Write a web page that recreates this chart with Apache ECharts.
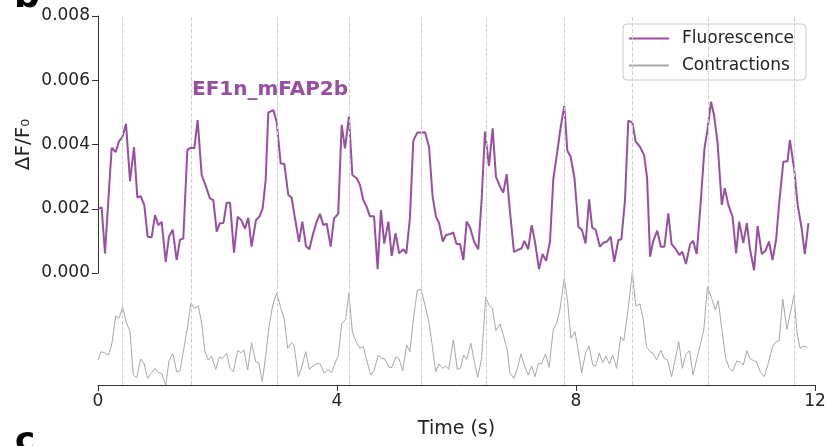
<!DOCTYPE html>
<html>
<head>
<meta charset="utf-8">
<script src="https://cdn.jsdelivr.net/npm/echarts@6/dist/echarts.min.js"></script>
<style>
  html, body { margin: 0; padding: 0; background: #fff; }
  #chart { width: 829px; height: 446px; }
</style>
</head>
<body>
<div id="chart"></div>
<script>
// Calcium fluorescence trace (ΔF/F0) and body contraction trace over 12 s
const fluoTime = [0, 0.061, 0.117, 0.229, 0.296, 0.351, 0.407, 0.469, 0.536, 0.603, 0.658, 0.714, 0.775, 0.831, 0.898, 0.954, 1.010, 1.066, 1.133, 1.188, 1.250, 1.317, 1.372, 1.428, 1.495, 1.556, 1.612, 1.668, 1.735, 1.808, 1.874, 1.930, 1.987, 2.040, 2.100, 2.153, 2.210, 2.276, 2.338, 2.400, 2.460, 2.516, 2.570, 2.644, 2.700, 2.756, 2.806, 2.850, 2.934, 2.990, 3.057, 3.118, 3.185, 3.240, 3.297, 3.364, 3.420, 3.481, 3.537, 3.604, 3.660, 3.715, 3.771, 3.827, 3.894, 3.950, 4.020, 4.078, 4.134, 4.200, 4.257, 4.330, 4.385, 4.440, 4.497, 4.550, 4.620, 4.680, 4.736, 4.790, 4.860, 4.915, 4.980, 5.040, 5.110, 5.160, 5.220, 5.277, 5.344, 5.410, 5.473, 5.540, 5.600, 5.657, 5.710, 5.770, 5.824, 5.890, 5.947, 6.000, 6.060, 6.115, 6.170, 6.226, 6.293, 6.365, 6.420, 6.477, 6.544, 6.605, 6.660, 6.728, 6.783, 6.840, 6.895, 6.962, 7.020, 7.090, 7.135, 7.200, 7.258, 7.313, 7.380, 7.440, 7.500, 7.565, 7.620, 7.687, 7.744, 7.804, 7.855, 7.910, 7.975, 8.040, 8.100, 8.160, 8.220, 8.270, 8.330, 8.400, 8.457, 8.520, 8.580, 8.640, 8.710, 8.760, 8.820, 8.875, 8.942, 9.000, 9.070, 9.140, 9.190, 9.240, 9.290, 9.360, 9.420, 9.480, 9.545, 9.600, 9.670, 9.730, 9.780, 9.840, 9.910, 9.960, 10.020, 10.090, 10.150, 10.200, 10.260, 10.310, 10.370, 10.440, 10.490, 10.550, 10.620, 10.680, 10.730, 10.800, 10.860, 10.910, 10.980, 11.040, 11.110, 11.170, 11.230, 11.290, 11.350, 11.400, 11.470, 11.540, 11.580, 11.650, 11.710, 11.780, 11.830, 11.890];
const fluoValue = [0.00200, 0.00204, 0.00061, 0.00390, 0.00376, 0.00410, 0.00423, 0.00464, 0.00286, 0.00392, 0.00235, 0.00239, 0.00211, 0.00113, 0.00111, 0.00180, 0.00149, 0.00159, 0.00035, 0.00113, 0.00135, 0.00040, 0.00104, 0.00107, 0.00383, 0.00390, 0.00388, 0.00476, 0.00305, 0.00269, 0.00232, 0.00227, 0.00129, 0.00155, 0.00156, 0.00219, 0.00219, 0.00063, 0.00175, 0.00164, 0.00138, 0.00172, 0.00082, 0.00165, 0.00175, 0.00201, 0.00289, 0.00499, 0.00507, 0.00471, 0.00341, 0.00340, 0.00243, 0.00235, 0.00170, 0.00097, 0.00160, 0.00084, 0.00074, 0.00125, 0.00160, 0.00184, 0.00149, 0.00154, 0.00082, 0.00170, 0.00184, 0.00461, 0.00388, 0.00487, 0.00305, 0.00295, 0.00274, 0.00227, 0.00206, 0.00177, 0.00177, 0.00012, 0.00196, 0.00092, 0.00160, 0.00053, 0.00124, 0.00061, 0.00074, 0.00061, 0.00170, 0.00412, 0.00437, 0.00437, 0.00438, 0.00393, 0.00238, 0.00175, 0.00155, 0.00098, 0.00118, 0.00121, 0.00126, 0.00090, 0.00090, 0.00040, 0.00160, 0.00142, 0.00098, 0.00074, 0.00227, 0.00440, 0.00333, 0.00450, 0.00300, 0.00269, 0.00250, 0.00308, 0.00191, 0.00066, 0.00071, 0.00077, 0.00100, 0.00074, 0.00149, 0.00098, 0.00012, 0.00059, 0.00038, 0.00098, 0.00292, 0.00378, 0.00455, 0.00520, 0.00381, 0.00362, 0.00295, 0.00144, 0.00134, 0.00092, 0.00229, 0.00142, 0.00134, 0.00082, 0.00094, 0.00098, 0.00113, 0.00035, 0.00103, 0.00105, 0.00227, 0.00474, 0.00469, 0.00409, 0.00393, 0.00367, 0.00295, 0.00051, 0.00098, 0.00132, 0.00082, 0.00082, 0.00186, 0.00090, 0.00074, 0.00056, 0.00066, 0.00028, 0.00090, 0.00100, 0.00059, 0.00227, 0.00388, 0.00445, 0.00533, 0.00492, 0.00404, 0.00212, 0.00264, 0.00212, 0.00175, 0.00061, 0.00160, 0.00094, 0.00155, 0.00077, 0.00008, 0.00146, 0.00059, 0.00069, 0.00098, 0.00040, 0.00105, 0.00217, 0.00346, 0.00348, 0.00414, 0.00326, 0.00212, 0.00134, 0.00059, 0.00155];

// Contraction signal, arbitrary units
const contTime = [0, 0.050, 0.106, 0.173, 0.229, 0.296, 0.351, 0.413, 0.469, 0.536, 0.590, 0.647, 0.714, 0.770, 0.830, 0.900, 0.954, 1.010, 1.066, 1.133, 1.188, 1.250, 1.317, 1.372, 1.428, 1.495, 1.556, 1.612, 1.680, 1.735, 1.790, 1.846, 1.900, 1.970, 2.030, 2.080, 2.153, 2.210, 2.265, 2.338, 2.390, 2.443, 2.505, 2.570, 2.640, 2.690, 2.750, 2.806, 2.862, 2.924, 2.990, 3.057, 3.118, 3.174, 3.240, 3.280, 3.353, 3.410, 3.476, 3.537, 3.600, 3.670, 3.720, 3.788, 3.855, 3.910, 3.967, 4.020, 4.078, 4.145, 4.200, 4.257, 4.313, 4.385, 4.440, 4.497, 4.564, 4.620, 4.690, 4.748, 4.800, 4.870, 4.920, 4.987, 5.040, 5.100, 5.166, 5.220, 5.277, 5.344, 5.406, 5.473, 5.540, 5.585, 5.652, 5.707, 5.770, 5.820, 5.870, 5.947, 6.013, 6.065, 6.120, 6.170, 6.240, 6.293, 6.355, 6.420, 6.489, 6.544, 6.600, 6.660, 6.728, 6.783, 6.850, 6.895, 6.962, 7.020, 7.080, 7.135, 7.200, 7.258, 7.313, 7.370, 7.420, 7.490, 7.550, 7.620, 7.677, 7.730, 7.804, 7.860, 7.916, 7.983, 8.040, 8.095, 8.160, 8.218, 8.280, 8.330, 8.390, 8.447, 8.500, 8.560, 8.614, 8.680, 8.748, 8.800, 8.875, 8.943, 9.000, 9.070, 9.126, 9.180, 9.240, 9.290, 9.350, 9.420, 9.475, 9.530, 9.600, 9.657, 9.720, 9.780, 9.835, 9.900, 9.960, 10.030, 10.086, 10.140, 10.200, 10.270, 10.330, 10.380, 10.440, 10.505, 10.560, 10.620, 10.690, 10.740, 10.800, 10.860, 10.910, 10.970, 11.020, 11.090, 11.150, 11.210, 11.290, 11.350, 11.400, 11.460, 11.530, 11.650, 11.700, 11.750, 11.800, 11.870];
const contValue = [0.250, 0.333, 0.323, 0.300, 0.400, 0.690, 0.667, 0.777, 0.633, 0.533, 0.100, 0.073, 0.260, 0.217, 0.067, 0.123, 0.167, 0.123, 0.117, 0.000, 0.240, 0.317, 0.133, 0.140, 0.333, 0.567, 0.823, 0.767, 0.790, 0.617, 0.333, 0.250, 0.290, 0.157, 0.277, 0.267, 0.317, 0.167, 0.133, 0.343, 0.323, 0.350, 0.150, 0.423, 0.233, 0.223, 0.033, 0.290, 0.583, 0.800, 0.917, 0.777, 0.657, 0.367, 0.423, 0.400, 0.083, 0.177, 0.333, 0.157, 0.190, 0.217, 0.210, 0.117, 0.157, 0.123, 0.217, 0.290, 0.610, 0.657, 0.917, 0.533, 0.443, 0.367, 0.383, 0.250, 0.100, 0.143, 0.300, 0.267, 0.260, 0.177, 0.177, 0.283, 0.260, 0.143, 0.400, 0.333, 0.650, 0.950, 0.957, 0.800, 0.623, 0.433, 0.133, 0.210, 0.167, 0.190, 0.157, 0.450, 0.157, 0.167, 0.300, 0.257, 0.417, 0.250, 0.077, 0.267, 0.877, 0.800, 0.767, 0.543, 0.610, 0.500, 0.350, 0.117, 0.067, 0.167, 0.310, 0.200, 0.100, 0.190, 0.083, 0.217, 0.210, 0.310, 0.177, 0.557, 0.617, 0.750, 1.070, 0.833, 0.467, 0.533, 0.333, 0.123, 0.317, 0.390, 0.200, 0.190, 0.317, 0.223, 0.290, 0.210, 0.300, 0.167, 0.483, 0.443, 0.767, 1.130, 0.790, 0.810, 0.657, 0.383, 0.333, 0.317, 0.250, 0.350, 0.267, 0.250, 0.083, 0.250, 0.433, 0.167, 0.300, 0.343, 0.100, 0.283, 0.417, 0.557, 0.983, 0.867, 0.750, 0.843, 0.567, 0.267, 0.177, 0.133, 0.240, 0.233, 0.200, 0.343, 0.267, 0.243, 0.233, 0.123, 0.083, 0.200, 0.383, 0.433, 0.443, 0.857, 0.557, 0.900, 0.517, 0.367, 0.390, 0.377];

// Times of contraction peaks (dashed guides)
const peakTimes = [0.413, 1.557, 2.996, 4.201, 5.411, 6.494, 7.799, 8.942, 10.209, 11.653];

const xTicks = [0, 4, 8, 12];

const FONT = 'DejaVu Sans';
const TEXT = '#222';
const AXIS = '#333';
const PURPLE = '#984ea3';
const GREY = '#a8a8a8';

const zip = (xs, ys) => xs.map((x, i) => [x, ys[i]]);

const guideLines = {
  silent: true,
  symbol: ['none', 'none'],
  label: { show: false },
  lineStyle: { color: '#cfcfcf', width: 1, type: [4, 2] },
  data: peakTimes.map(t => ({ xAxis: t }))
};

const chart = echarts.init(document.getElementById('chart'), null, { renderer: 'canvas' });
chart.setOption({
  animation: false,
  backgroundColor: '#fff',
  textStyle: { fontFamily: FONT },
  title: {
    text: 'EF1n_mFAP2b',
    left: 187, top: 75,
    textStyle: { color: PURPLE, fontSize: 20, fontWeight: 'bold', fontFamily: FONT }
  },
  legend: {
    orient: 'vertical',
    left: 623, top: 24,
    itemWidth: 40, itemHeight: 14, itemGap: 10,
    padding: [6, 12, 6, 5],
    borderColor: '#cccccc', borderWidth: 1, borderRadius: 4,
    backgroundColor: 'rgba(255,255,255,0.8)',
    itemStyle: { opacity: 0 },
    textStyle: { fontSize: 17, color: TEXT, fontFamily: FONT, padding: [0, 0, 0, 8] },
    data: ['Fluorescence', 'Contractions']
  },
  graphic: [
    { type: 'text', left: 14, top: -20, style: { text: 'b', font: 'bold 36px "DejaVu Sans"', fill: '#000' } },
    { type: 'text', left: 15, top: 425, style: { text: 'c', font: 'bold 34px "DejaVu Sans"', fill: '#000' } }
  ],
  grid: [
    { left: 98, right: 14, top: 16, height: 257 },
    { left: 98, right: 14, top: 273, height: 112 }
  ],
  xAxis: [
    { gridIndex: 0, type: 'value', min: 0, max: 12, show: false },
    {
      gridIndex: 1, type: 'value', min: 0, max: 12, interval: 4,
      axisLine: { show: true, lineStyle: { color: AXIS, width: 1 } },
      axisTick: { show: true, length: 6, lineStyle: { color: AXIS } },
      axisLabel: { fontSize: 17, color: TEXT, margin: 8, customValues: xTicks },
      splitLine: { show: false },
      name: 'Time (s)', nameLocation: 'middle', nameGap: 35, nameMoveOverlap: false,
      nameTextStyle: { fontSize: 19, color: TEXT }
    }
  ],
  yAxis: [
    {
      gridIndex: 0, type: 'value', min: 0, max: 0.008, interval: 0.002,
      axisLine: { show: true, lineStyle: { color: AXIS, width: 1 } },
      axisTick: { show: true, length: 6, lineStyle: { color: AXIS } },
      axisLabel: { fontSize: 17, color: TEXT, margin: 8, formatter: v => v.toFixed(3) },
      splitLine: { show: false },
      name: 'ΔF/F₀', nameLocation: 'middle', nameGap: 64, nameRotate: 90, nameMoveOverlap: false,
      nameTextStyle: { fontSize: 20, color: TEXT }
    },
    { gridIndex: 1, type: 'value', min: 0, max: 1.12, show: false }
  ],
  series: [
    {
      name: 'Fluorescence', type: 'line', xAxisIndex: 0, yAxisIndex: 0,
      data: zip(fluoTime, fluoValue),
      symbol: 'none', clip: false,
      lineStyle: { color: PURPLE, width: 2 },
      itemStyle: { color: PURPLE },
      markLine: guideLines,
      z: 3
    },
    {
      name: 'Contractions', type: 'line', xAxisIndex: 1, yAxisIndex: 1,
      data: zip(contTime, contValue),
      symbol: 'none', clip: false,
      lineStyle: { color: GREY, width: 1 },
      itemStyle: { color: GREY },
      markLine: guideLines,
      z: 3
    }
  ]
});
</script>
</body>
</html>
